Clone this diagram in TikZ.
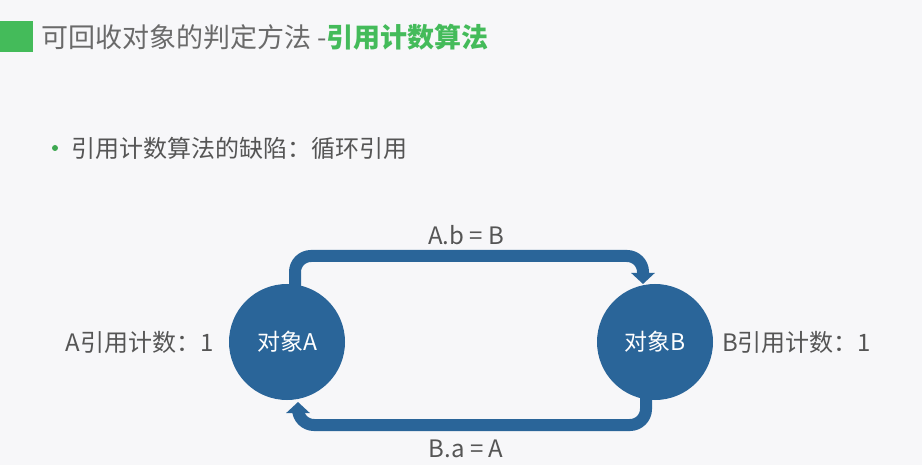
\documentclass[tikz,border=0pt]{standalone}
\usepackage{fontspec}
\setmainfont{Noto Sans CJK SC}
\usetikzlibrary{arrows.meta}
\definecolor{bgc}{HTML}{F7F7F9}
\definecolor{titlegrey}{HTML}{6A6A6A}
\definecolor{txtgrey}{HTML}{555555}
\definecolor{accent}{HTML}{44BB5A}
\definecolor{objblue}{HTML}{2A6599}
\tikzset{
  obj/.style={circle, fill=objblue, minimum size=116pt, inner sep=0pt, text=white, font=\fontsize{23}{26}\selectfont},
  flow/.style={draw=objblue, line width=12pt, rounded corners=16pt, -{Triangle[width=23pt,length=11pt]}},
  lbl/.style={text=txtgrey, font=\fontsize{24}{27}\selectfont, inner sep=0pt},
}
\begin{document}
\begin{tikzpicture}[x=1pt,y=-1pt]
\useasboundingbox[fill=bgc] (0,0) rectangle (922,465);
\fill[accent] (0,21) rectangle (33,52);
\node[anchor=west, inner sep=0pt, font=\fontsize{27}{30}\selectfont, text=titlegrey] (title) at (41,37)
  {可回收对象的判定方法 -\textcolor{accent}{\bfseries 引用计数算法}};
\fill[accent!90!black] (55,148) circle (3pt);
\node[anchor=west, inner sep=0pt, font=\fontsize{24}{27}\selectfont, text=txtgrey] (bullet) at (71,148)
  {引用计数算法的缺陷：循环引用};
\draw[flow] (295,300) -- (295,256) -| (643,284);
\draw[flow] (646,380) -- (646,425) -| (298,402);
\node[obj] (A) at (287,342) {对象A};
\node[obj] (B) at (655,342) {对象B};
\node[lbl] (ab) at (466,235) {A.b = B};
\node[lbl] (ba) at (466,449) {B.a = A};
\node[lbl, anchor=east] (ca) at (214,342) {A引用计数：1};
\node[lbl, anchor=west] (cb) at (722,342) {B引用计数：1};
\end{tikzpicture}
\end{document}
